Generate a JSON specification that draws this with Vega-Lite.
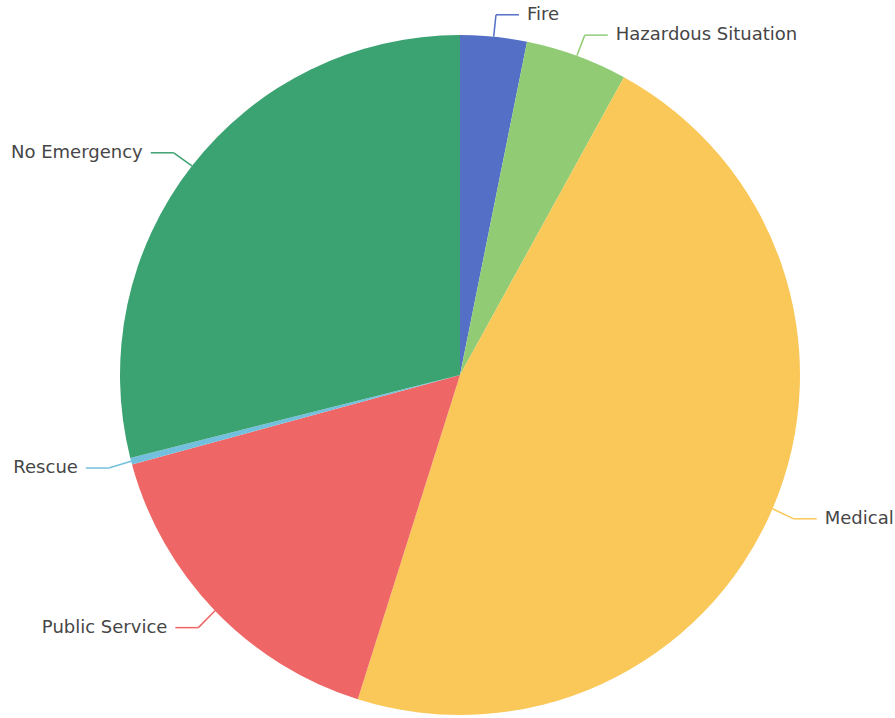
{
  "$schema": "https://vega.github.io/schema/vega-lite/v6.json",
  "width": 895,
  "height": 718,
  "padding": 0,
  "autosize": {"type": "none"},
  "background": "white",
  "config": {"view": {"stroke": null}},
  "data": {
    "values": [
      {"category": "Fire", "value": 316},
      {"category": "Hazardous Situation", "value": 485},
      {"category": "Medical", "value": 4685},
      {"category": "Public Service", "value": 1590},
      {"category": "Rescue", "value": 32},
      {"category": "No Emergency", "value": 2892}
    ]
  },
  "transform": [
    {"window": [{"op": "row_number", "as": "rank"}]},
    {"window": [{"op": "sum", "field": "value", "as": "cum"}], "sort": [{"field": "rank"}], "frame": [null, 0]},
    {"joinaggregate": [{"op": "sum", "field": "value", "as": "total"}]},
    {"calculate": "2*PI*(datum.cum - datum.value/2)/datum.total", "as": "a"},
    {"calculate": "460 + 340*sin(datum.a)", "as": "ex"},
    {"calculate": "375 - 340*cos(datum.a)", "as": "ey"},
    {"calculate": "460 + 363*sin(datum.a)", "as": "px"},
    {"calculate": "376 - 363*cos(datum.a)", "as": "py"},
    {"calculate": "sin(datum.a) >= 0 ? 1 : -1", "as": "side"},
    {"calculate": "datum.px + datum.side*23", "as": "hx"},
    {"calculate": "datum.hx + datum.side*8", "as": "tx"}
  ],
  "layer": [
    {
      "mark": {"type": "arc", "outerRadius": 340},
      "encoding": {
        "theta": {"field": "value", "type": "quantitative", "stack": true},
        "order": {"field": "rank", "type": "quantitative"},
        "x": {"datum": 460, "type": "quantitative", "scale": {"domain": [0, 895], "nice": false, "zero": false}, "axis": null},
        "y": {"datum": 375, "type": "quantitative", "scale": {"domain": [0, 718], "nice": false, "zero": false, "reverse": true}, "axis": null},
        "color": {
          "field": "category", "type": "nominal", "legend": null,
          "scale": {
            "domain": ["Fire", "Hazardous Situation", "Medical", "Public Service", "Rescue", "No Emergency"],
            "range": ["#5470c6", "#91cc75", "#fac858", "#ee6666", "#73c0de", "#3ba272"]
          }
        }
      }
    },
    {
      "mark": {"type": "rule", "strokeWidth": 1.5},
      "encoding": {
        "x": {"field": "ex", "type": "quantitative"},
        "y": {"field": "ey", "type": "quantitative"},
        "x2": {"field": "px"},
        "y2": {"field": "py"},
        "color": {"field": "category", "type": "nominal", "legend": null}
      }
    },
    {
      "mark": {"type": "rule", "strokeWidth": 1.5},
      "encoding": {
        "x": {"field": "px", "type": "quantitative"},
        "y": {"field": "py", "type": "quantitative"},
        "x2": {"field": "hx"},
        "y2": {"field": "py"},
        "color": {"field": "category", "type": "nominal", "legend": null}
      }
    },
    {
      "transform": [{"filter": "datum.side > 0"}],
      "mark": {"type": "text", "align": "left", "baseline": "middle", "font": "DejaVu Sans", "fontSize": 18, "color": "#464646"},
      "encoding": {
        "x": {"field": "tx", "type": "quantitative"},
        "y": {"field": "py", "type": "quantitative"},
        "text": {"field": "category"}
      }
    },
    {
      "transform": [{"filter": "datum.side < 0"}],
      "mark": {"type": "text", "align": "right", "baseline": "middle", "font": "DejaVu Sans", "fontSize": 18, "color": "#464646"},
      "encoding": {
        "x": {"field": "tx", "type": "quantitative"},
        "y": {"field": "py", "type": "quantitative"},
        "text": {"field": "category"}
      }
    }
  ]
}
